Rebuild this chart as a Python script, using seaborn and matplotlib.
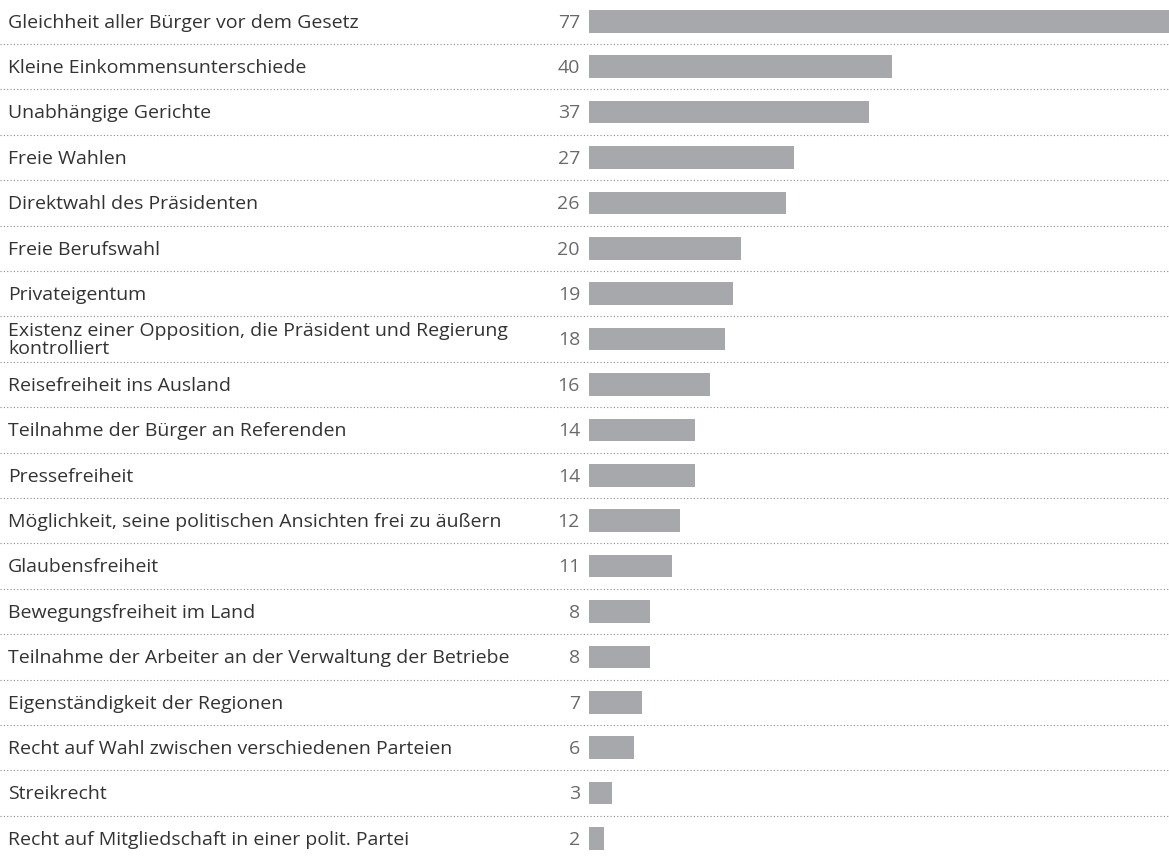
import matplotlib
matplotlib.use("Agg")
import matplotlib.pyplot as plt
import matplotlib.transforms as mtransforms
import seaborn as sns
import pandas as pd

categories = [
    "Gleichheit aller Bürger vor dem Gesetz",
    "Kleine Einkommensunterschiede",
    "Unabhängige Gerichte",
    "Freie Wahlen",
    "Direktwahl des Präsidenten",
    "Freie Berufswahl",
    "Privateigentum",
    "Existenz einer Opposition, die Präsident und Regierung\nkontrolliert",
    "Reisefreiheit ins Ausland",
    "Teilnahme der Bürger an Referenden",
    "Pressefreiheit",
    "Möglichkeit, seine politischen Ansichten frei zu äußern",
    "Glaubensfreiheit",
    "Bewegungsfreiheit im Land",
    "Teilnahme der Arbeiter an der Verwaltung der Betriebe",
    "Eigenständigkeit der Regionen",
    "Recht auf Wahl zwischen verschiedenen Parteien",
    "Streikrecht",
    "Recht auf Mitgliedschaft in einer polit. Partei",
]
values = [77, 40, 37, 27, 26, 20, 19, 18, 16, 14, 14, 12, 11, 8, 8, 7, 6, 3, 2]

df = pd.DataFrame({"label": categories, "value": values})

sns.set_style("white")
plt.rcParams["font.family"] = ["Open Sans", "DejaVu Sans"]

W, H = 1169, 856
fig = plt.figure(figsize=(W / 100, H / 100), dpi=100)
ax = fig.add_axes([0, 0, 1, 1])

sns.barplot(data=df, y="label", x="value", orient="h", color="#a7a8ab",
            saturation=1, width=0.5, ax=ax, linewidth=0)

px_per_unit = 7.575
bar_start = 589
ax.set_xlim(-bar_start / px_per_unit, (W - bar_start) / px_per_unit)
n = len(categories)
ax.set_ylim(n - 1 + 0.386, -0.469)

ax.axis("off")

trans = mtransforms.blended_transform_factory(ax.transAxes, ax.transData)
for i, (lab, v) in enumerate(zip(categories, values)):
    ax.text(8 / W, i + 0.03, lab, transform=trans, ha="left", va="center",
            fontsize=14, color="#333333", linespacing=1.0)
    ax.text(580 / W, i + 0.03, str(v), transform=trans, ha="right", va="center",
            fontsize=14, color="#6a6a6a")

for i in range(-1, n):
    ax.axhline(i + 0.5, xmin=0, xmax=1, color="#8a8a8a", linewidth=0.8,
               linestyle=(0, (1, 2)))

fig.savefig("out.png", dpi=100)
